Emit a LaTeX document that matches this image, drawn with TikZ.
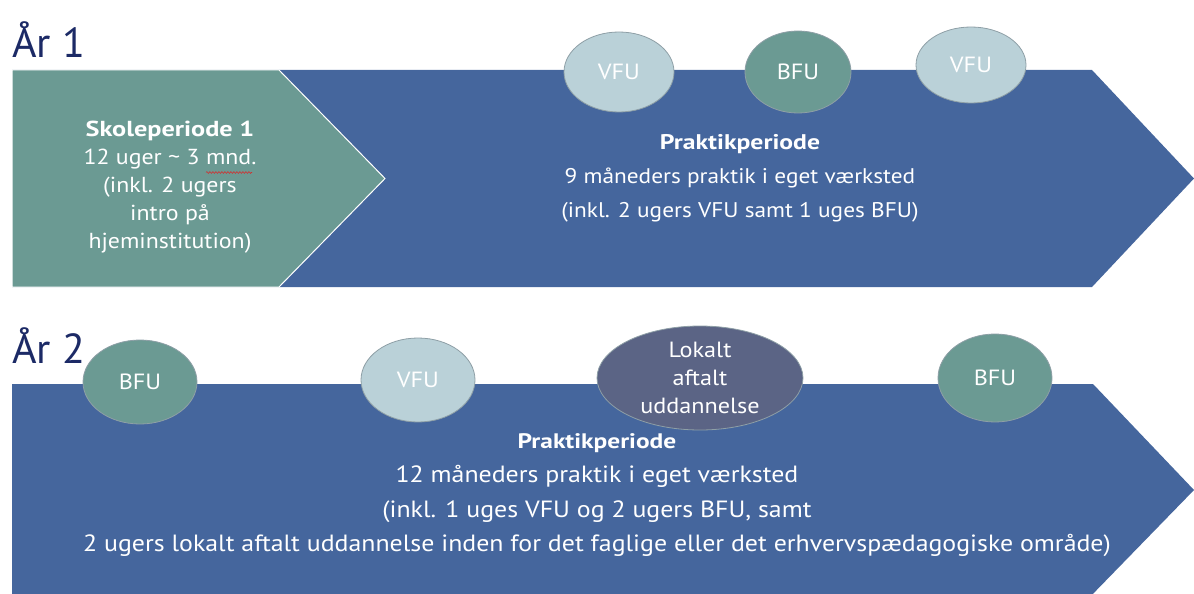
\documentclass[tikz,border=0pt]{standalone}
\usepackage{fontspec}
\setmainfont[FakeStretch=1.1, BoldFeatures={FakeStretch=1.21}]{PT Sans}
\newfontfamily\titlefont{PT Sans}
\usetikzlibrary{shapes.geometric,decorations.pathmorphing}
\definecolor{arrowblue}{HTML}{45669D}
\definecolor{tealc}{HTML}{6B9A93}
\definecolor{lightell}{HTML}{BAD1D8}
\definecolor{darkell}{HTML}{5B6485}
\definecolor{navy}{HTML}{1C2A66}
\definecolor{ellborder}{HTML}{8E9FA6}
\definecolor{spellred}{HTML}{D03030}
\tikzset{
  ell/.style={ellipse, draw=ellborder, line width=0.8pt, text=white, inner sep=0pt,
    font=\fontsize{22}{28}\selectfont, align=center},
  lightell/.style={ell, fill=lightell, minimum width=110pt, minimum height=80pt},
  tealell/.style={ell, fill=tealc, minimum width=110pt, minimum height=82pt},
  darkellst/.style={ell, fill=darkell, minimum width=206pt, minimum height=104pt},
  bodytext/.style={text=white, align=center, font=\fontsize{21.2}{34}\selectfont},
  title/.style={text=navy, font=\titlefont\fontsize{42}{42}\selectfont, anchor=base west, inner sep=0pt}
}
\begin{document}
\begin{tikzpicture}[x=1pt,y=-1pt]
\useasboundingbox (0,0) rectangle (1194,594);
% Year 1
\node[title] (t1) at (12,58) {År 1};
\fill[arrowblue] (12,70) -- (1092,70) -- (1194,178.5) -- (1092,287) -- (12,287) -- cycle;
\filldraw[fill=tealc, draw=white, line width=1pt] (12,70) -- (279,70) -- (385,178.5) -- (279,287) -- (12,287) -- cycle;
\node[bodytext, font=\fontsize{21.7}{28}\selectfont] (skole) at (170,187)
  {\textbf{Skoleperiode 1}\\12 uger \textasciitilde{} 3 mnd.\\(inkl. 2 ugers\\intro på\\hjeminstitution)};
\draw[spellred, line width=0.6pt, decorate, decoration={snake, amplitude=0.9pt, segment length=3pt}]
  (206,172.5) -- (252,172.5);
\node[bodytext] (prak1) at (740,178)
  {\textbf{Praktikperiode}\\9 måneders praktik i eget værksted\\(inkl. 2 ugers VFU samt 1 uges BFU)};
\node[lightell] (vfu1) at (619,72) {VFU};
\node[tealell, minimum width=106pt] (bfu1) at (798,72) {BFU};
\node[lightell, minimum height=76pt] (vfu2) at (971,65) {VFU};
% Year 2
\node[title] (t2) at (12,363) {År 2};
\fill[arrowblue] (12,384) -- (1093,384) -- (1194,490) -- (1087,600) -- (12,600) -- cycle;
\node[bodytext, font=\fontsize{23.5}{34.5}\selectfont] (prak2) at (597,495)
  {{\fontsize{21}{34.5}\selectfont\textbf{Praktikperiode}}\\12 måneders praktik i eget værksted\\(inkl. 1 uges VFU og 2 ugers BFU, samt\\2 ugers lokalt aftalt uddannelse inden for det faglige eller det erhvervspædagogiske område)};
\node[tealell, minimum width=114pt, minimum height=84pt] (bfu2) at (140,382) {BFU};
\node[lightell, minimum width=114pt, minimum height=84pt] (vfu3) at (418,380) {VFU};
\node[darkellst] (lok) at (700,378) {Lokalt\\aftalt\\uddannelse};
\node[tealell, minimum width=114pt, minimum height=88pt] (bfu3) at (995,378) {BFU};
\end{tikzpicture}
\end{document}
